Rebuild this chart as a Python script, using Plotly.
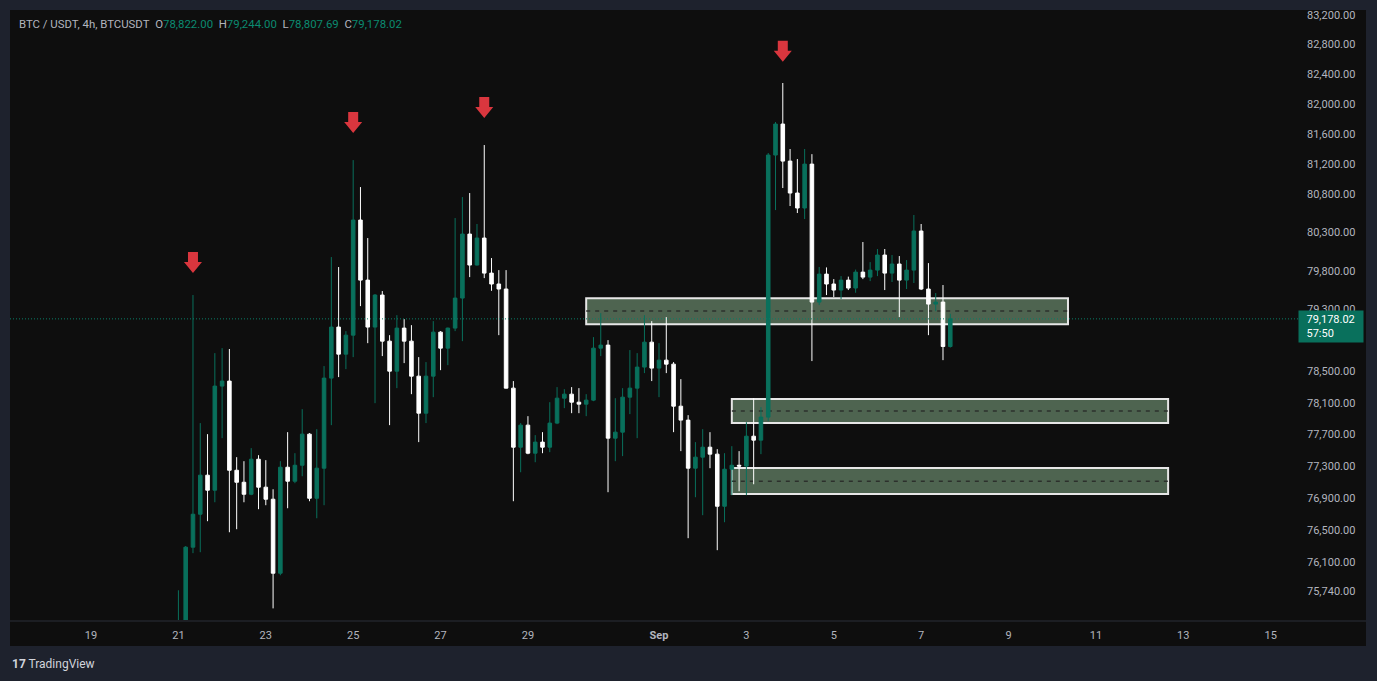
import numpy as np
import pandas as pd
import plotly.graph_objects as go

# ---------------- data ----------------
times = pd.date_range("2024-08-21 00:00", periods=107, freq="4h")

opens = [75150, 75330, 76285, 76696, 77186, 76997, 78315, 78379, 77248, 77097,
         76946, 77387, 77035, 76884, 75962, 77286, 77110, 77311, 77704, 76896,
         77274, 78417, 79072, 78724, 78968, 80464, 79680, 79072, 79486, 78891,
         78506, 79059, 78891, 78442, 77970, 78442, 79007, 78801, 79059, 79447,
         80280, 79876, 80228, 79771, 79629, 79564, 78289, 77539, 77818, 77463,
         77603, 77539, 77844, 78161, 78212, 78110, 78085, 78136, 78801, 78840,
         77653, 77729, 78174, 78289, 78558, 78878, 78545, 78647, 78596, 78059,
         77882, 77274, 77413, 77539, 77451, 76796, 77261, 77311, 77300, 77678,
         77628, 77920, 81321, 81733, 81241, 80819, 80622, 81201, 79395, 79758,
         79629, 79551, 79680, 79577, 79784, 79719, 79810, 80006, 79771, 79889,
         79680, 79810, 80320, 79564, 79369, 79395, 78822]
highs = [75751, 76300, 79486, 77844, 77704, 78737, 78801, 78790, 77413, 77362,
         77527, 77438, 77375, 77009, 77362, 77729, 77463, 78021, 77717, 77767,
         78571, 79980, 79850, 79020, 81254, 80898, 80228, 79499, 79538, 78968,
         79226, 79175, 79097, 78686, 78622, 79149, 79020, 79065, 80490, 80766,
         80819, 80412, 81454, 79967, 79810, 79810, 78379, 77844, 77932, 77691,
         77729, 78110, 78302, 78276, 78302, 78289, 78212, 78943, 79252, 78904,
         78161, 78289, 78776, 78737, 79226, 79149, 78865, 79201, 78622, 78404,
         77945, 77603, 77767, 77729, 77514, 77463, 77552, 77489, 77856, 78161,
         78047, 81348, 81760, 82282, 81401, 81268, 81401, 81333, 79850, 79845,
         79693, 79732, 79725, 79817, 80176, 79914, 80085, 80085, 80006, 79993,
         79941, 80530, 80412, 79901, 79512, 79616, 79244]
lows = [75050, 75300, 76211, 76223, 76609, 76846, 77653, 76471, 76509, 76846,
        76934, 76759, 76809, 75528, 75937, 76771, 77085, 77173, 76859, 76646,
        76809, 77818, 78430, 78532, 78686, 79343, 78865, 78097, 78699, 77818,
        78289, 78609, 78212, 77603, 77844, 78174, 78519, 78583, 79020, 78891,
        79719, 79870, 79706, 79541, 78968, 78285, 76859, 77223, 77450, 77349,
        77463, 77476, 77831, 78034, 77970, 77970, 77932, 78123, 78699, 76972,
        77362, 77426, 77958, 77653, 78481, 78379, 78174, 78481, 77729, 77489,
        76397, 76909, 76684, 77274, 76248, 76596, 76934, 76984, 76934, 77072,
        77451, 77869, 80595, 80885, 80648, 80556, 80477, 78635, 79356, 79486,
        79460, 79434, 79551, 79516, 79693, 79667, 79732, 79551, 79655, 79201,
        79564, 79642, 79551, 78968, 79278, 78647, 78807.69]
closes = [75330, 76285, 76696, 77186, 76997, 78315, 78379, 77248, 77097, 76946,
          77387, 77035, 76884, 75962, 77286, 77110, 77311, 77704, 76896, 77274,
          78417, 79072, 78724, 78968, 80464, 79680, 79072, 79486, 78891, 78506,
          79059, 78891, 78442, 77970, 78442, 79007, 78801, 79059, 79447, 80280,
          79876, 80228, 79771, 79629, 79564, 78289, 77539, 77818, 77463, 77603,
          77539, 77844, 78161, 78212, 78110, 78085, 78136, 78801, 78840, 77653,
          77729, 78174, 78289, 78558, 78878, 78545, 78647, 78596, 78059, 77882,
          77274, 77413, 77539, 77451, 76796, 77261, 77311, 77300, 77678, 77628,
          77920, 81321, 81733, 81241, 80819, 80622, 81201, 79395, 79758, 79629,
          79551, 79680, 79577, 79784, 79719, 79810, 80006, 79771, 79889, 79680,
          79810, 80320, 79564, 79369, 79395, 78822, 79178.02]

last_price = 79178.02

# supply / demand zones
zone_start = ["2024-08-30 08:00", "2024-09-02 16:00", "2024-09-02 16:00"]
zone_end = ["2024-09-10 08:40", "2024-09-12 15:40", "2024-09-12 15:40"]
zone_low = [79110, 77845, 76948]
zone_high = [79446, 78150, 77275]
zone_mid = [79279, 77997, 77111]

# red marker arrows (tip time / tip price)
arrow_time = ["2024-08-21 08:00", "2024-08-25 00:00", "2024-08-28 00:00", "2024-09-03 20:00"]
arrow_price = [79771, 81613, 81813, 82568]

# axes (78,900 label is hidden behind the last-price tag in the reference)
y_ticks = [75740, 76100, 76500, 76900, 77300, 77700, 78100, 78500, 79300,
           79800, 80300, 80800, 81200, 81600, 82000, 82400, 82800, 83200]
x_tick_dates = ["2024-08-19", "2024-08-21", "2024-08-23", "2024-08-25", "2024-08-27",
                "2024-08-29", "2024-09-01", "2024-09-03", "2024-09-05", "2024-09-07",
                "2024-09-09", "2024-09-11", "2024-09-13", "2024-09-15"]
x_tick_text = ["19", "21", "23", "25", "27", "29", "<b>Sep</b>", "3", "5", "7",
               "9", "11", "13", "15"]
x_range = ["2024-08-17 03:29", "2024-09-15 15:01"]
y_range_prices = [75385, 83267]

header = ("BTC / USDT, 4h, BTCUSDT&nbsp;&nbsp;"
          "O<span style='color:#0b8a70'>78,822.00</span>&nbsp;&nbsp;"
          "H<span style='color:#0b8a70'>79,244.00</span>&nbsp;&nbsp;"
          "L<span style='color:#0b8a70'>78,807.69</span>&nbsp;&nbsp;"
          "C<span style='color:#0b8a70'>79,178.02</span>")

# ---------------- styling ----------------
W, H = 1377, 681
ML, MR, MT, MB = 10, 79, 10, 61
PW, PH = W - ML - MR, H - MT - MB
GREEN = "#09705c"
WHITE = "#ffffff"
TXT = "#b2b5be"
FONT = "Roboto"


def px_x(px):
    return (px - ML) / PW


def px_y(py):
    return (H - MB - py) / PH


ylog = np.log10(y_range_prices)

fig = go.Figure()
fig.add_trace(go.Candlestick(
    x=times, open=opens, high=highs, low=lows, close=closes,
    increasing=dict(line=dict(color=GREEN, width=1), fillcolor=GREEN),
    decreasing=dict(line=dict(color=WHITE, width=1), fillcolor=WHITE),
    whiskerwidth=0, hoverinfo="skip", showlegend=False,
))

shapes = []
# panel background (plot + axes strips)
shapes.append(dict(type="rect", xref="paper", yref="paper",
                   x0=px_x(10), x1=px_x(1366), y0=px_y(646), y1=px_y(10),
                   fillcolor="#0e0e0e", line=dict(width=0), layer="below"))
# separator above time axis
shapes.append(dict(type="line", xref="paper", yref="paper",
                   x0=px_x(10), x1=px_x(1366), y0=px_y(621), y1=px_y(621),
                   line=dict(color="#2a2e39", width=1)))
# zones
for s, e, lo, hi, mid in zip(zone_start, zone_end, zone_low, zone_high, zone_mid):
    shapes.append(dict(type="rect", xref="x", yref="y", x0=s, x1=e, y0=lo, y1=hi,
                       fillcolor="#4e6450", line=dict(color="#e6e6e6", width=2),
                       layer="below"))
    shapes.append(dict(type="line", xref="x", yref="y", x0=s, x1=e, y0=mid, y1=mid,
                       line=dict(color="#2c302c", width=1.5, dash="4px,5px"),
                       layer="below"))
# last price dotted line
shapes.append(dict(type="line", xref="paper", yref="y", x0=0, x1=1,
                   y0=last_price, y1=last_price,
                   line=dict(color="#0a7d66", width=1, dash="1px,2px")))
# arrows
arrow_path = "M0,0 L-9,11 L-5,11 L-5,21 L5,21 L5,11 L9,11 Z"
for t, p in zip(arrow_time, arrow_price):
    shapes.append(dict(type="path", xref="x", yref="y", xsizemode="pixel",
                       ysizemode="pixel", xanchor=t, yanchor=p, path=arrow_path,
                       fillcolor="#d9363e", line=dict(width=0)))

annotations = [
    dict(xref="paper", yref="paper", x=px_x(17), y=px_y(24), xanchor="left",
         yanchor="middle", text=header, showarrow=False,
         font=dict(family=FONT, size=11.4, color=TXT)),
    dict(xref="paper", yref="paper", x=1.0,
         y=(np.log10(last_price) - ylog[0]) / (ylog[1] - ylog[0]),
         xanchor="left", yanchor="top", yshift=9,
         text="&nbsp;&nbsp;79,178.02<br>&nbsp;&nbsp;57:50", showarrow=False,
         align="left", width=60, height=27, borderpad=2, bgcolor=GREEN,
         font=dict(family=FONT, size=11, color="#ffffff")),
    dict(xref="paper", yref="paper", x=px_x(10), y=px_y(664), xanchor="left",
         yanchor="middle", showarrow=False,
         text="<b>17</b> TradingView",
         font=dict(family=FONT, size=12, color="#d1d4dc")),
]

fig.update_layout(
    width=W, height=H,
    margin=dict(l=ML, r=MR, t=MT, b=MB),
    paper_bgcolor="#1e222d", plot_bgcolor="#0e0e0e",
    showlegend=False, hovermode=False,
    shapes=shapes, annotations=annotations,
    xaxis=dict(type="date", range=x_range, rangeslider=dict(visible=False),
               showgrid=False, zeroline=False, showline=False, ticks="",
               tickvals=x_tick_dates, ticktext=x_tick_text,
               ticklabelstandoff=7,
               tickfont=dict(family=FONT, size=11, color=TXT)),
    yaxis=dict(type="log", range=list(ylog), side="right", showgrid=False,
               zeroline=False, showline=False, ticks="",
               tickvals=y_ticks, tickformat=",.2f", ticklabelstandoff=8,
               tickfont=dict(family=FONT, size=11, color=TXT)),
)

fig.write_html("out.html", config={"displayModeBar": False},
               post_script="document.body.style.margin='0';document.body.style.overflow='hidden';")
